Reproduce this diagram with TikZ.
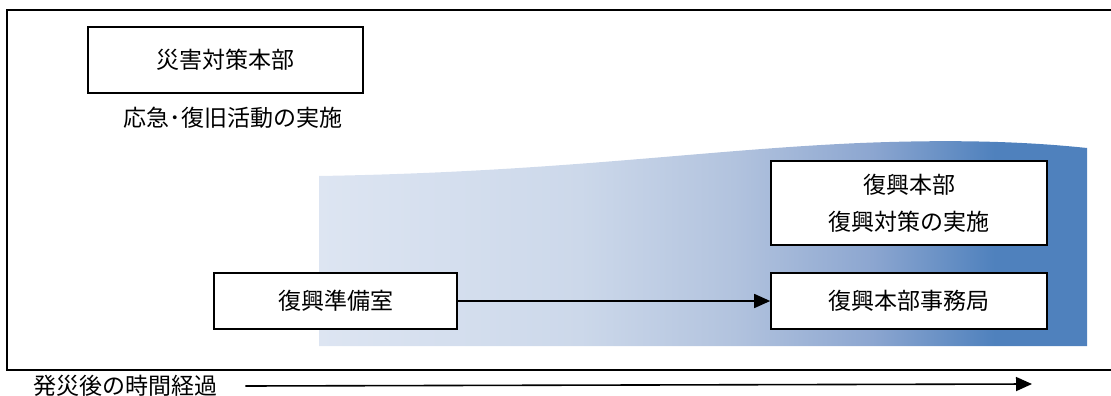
\documentclass[tikz,border=0pt]{standalone}
\usepackage{fontspec}
\setmainfont{Noto Sans CJK JP}
\usetikzlibrary{arrows.meta}
\definecolor{fukkoA}{RGB}{221,229,242}
\definecolor{fukkoB}{RGB}{204,216,234}
\definecolor{fukkoC}{RGB}{178,195,222}
\definecolor{fukkoD}{RGB}{140,166,208}
\definecolor{fukkoE}{RGB}{79,129,189}
\pgfdeclarehorizontalshading{fukko}{100bp}{
  color(0bp)=(fukkoA); color(25bp)=(fukkoA); color(42bp)=(fukkoB);
  color(52bp)=(fukkoC); color(61bp)=(fukkoD); color(69bp)=(fukkoE);
  color(100bp)=(fukkoE)}
\begin{document}
\begin{tikzpicture}[x=1pt,y=-1pt,
  box/.style={draw=black,line width=1.6pt,fill=white,inner sep=0pt,
    align=center,font=\fontsize{23}{37}\selectfont},
  lbl/.style={inner sep=0pt,font=\fontsize{23}{28}\selectfont}]
\useasboundingbox (0,0) rectangle (1111,396);

% gradient band
\shade[shading=fukko] (319,346) -- (319,176)
  .. controls (560,172) and (700,150) .. (860,143)
  .. controls (960,139) and (1030,142) .. (1087,148) -- (1087,346) -- cycle;

% frame
\draw[line width=1.6pt] (7,10) rectangle (1112,370);

\node[box,minimum width=275,minimum height=66] (saigai) at (225.5,60) {災害対策本部};
\node[lbl] (oukyu) at (233,118) {応急･復旧活動の実施};

\node[box,minimum width=276,minimum height=84] (honbu) at (909,203) {復興本部\\復興対策の実施};
\node[box,minimum width=276,minimum height=56] (jimu) at (909,301) {復興本部事務局};
\node[box,minimum width=243,minimum height=56] (junbi) at (335.5,301) {復興準備室};

\draw[line width=1.6pt,-{Triangle[length=16pt,width=14pt]}] (junbi) -- (jimu);

% time axis
\node[lbl,anchor=west] (jikan) at (33,386) {発災後の時間経過};
\coordinate (jikanEnd) at (1032,384);
\draw[line width=1.6pt,-{Triangle[length=16pt,width=14pt]}] ([xshift=28pt]jikan.east) -- (jikanEnd);
\end{tikzpicture}
\end{document}
